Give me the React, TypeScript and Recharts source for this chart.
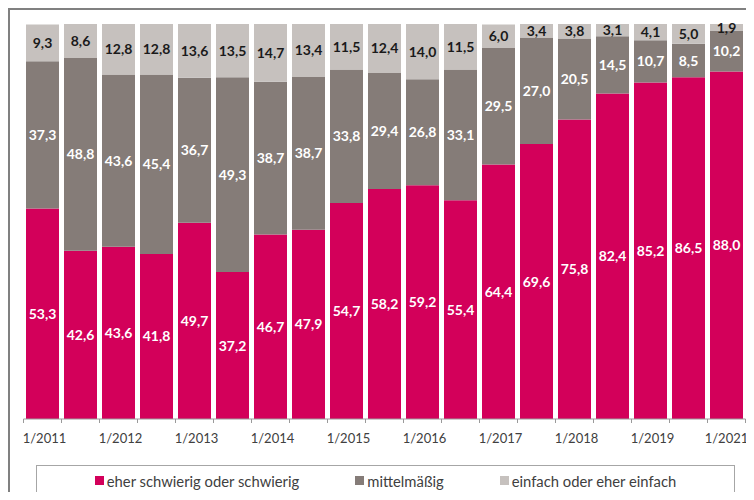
import React from "react";
import { BarChart, Bar, XAxis, YAxis, LabelList, Legend } from "recharts";

const categories = ["1/2011","7/2011","1/2012","7/2012","1/2013","7/2013","1/2014","7/2014","1/2015","7/2015","1/2016","7/2016","1/2017","7/2017","1/2018","7/2018","1/2019","1/2020","1/2021"];
const hard = [53.3, 42.6, 43.6, 41.8, 49.7, 37.2, 46.7, 47.9, 54.7, 58.2, 59.2, 55.4, 64.4, 69.6, 75.8, 82.4, 85.2, 86.5, 88.0];
const mid = [37.3, 48.8, 43.6, 45.4, 36.7, 49.3, 38.7, 38.7, 33.8, 29.4, 26.8, 33.1, 29.5, 27.0, 20.5, 14.5, 10.7, 8.5, 10.2];
const easy = [9.3, 8.6, 12.8, 12.8, 13.6, 13.5, 14.7, 13.4, 11.5, 12.4, 14.0, 11.5, 6.0, 3.4, 3.8, 3.1, 4.1, 5.0, 1.9];
const seriesNames = ["eher schwierig oder schwierig", "mittelmäßig", "einfach oder eher einfach"];
const colors = ["#D3005A", "#857C78", "#C6C1BE"];

const data = categories.map((c, i) => ({ name: c, hard: hard[i], mid: mid[i], easy: easy[i] }));

const fmt = (v: any) => Number(v).toFixed(1).replace(".", ",");

const Tick = (props: any) => {
  const { x, y, payload, index } = props;
  const off = payload && typeof payload.offset === "number" ? payload.offset : 19;
  const last = index === categories.length - 1;
  return (
    <g>
      <line x1={x - off} x2={x - off} y1={y} y2={y + 4} stroke="#9a9a9a" strokeWidth={1} />
      {last && (
        <line x1={x + off} x2={x + off} y1={y} y2={y + 4} stroke="#9a9a9a" strokeWidth={1} />
      )}
      {index % 2 === 0 && (
        <text x={last ? x : x + 2} y={y + 24} textAnchor="middle" fill="#404040" fontSize={13} fontFamily="Lato">
          {payload.value}
        </text>
      )}
    </g>
  );
};

const LegendBox = () => (
  <div
    style={{
      width: 699,
      height: 31,
      boxSizing: "border-box",
      border: "1.5px solid #a6a6a6",
      display: "flex",
      alignItems: "center",
      justifyContent: "center",
      gap: 56,
      fontFamily: "Lato",
      fontSize: 14.8,
      color: "#404040",
    }}
  >
    {seriesNames.map((n, i) => (
      <div key={n} style={{ display: "flex", alignItems: "center" }}>
        <span style={{ display: "inline-block", width: 9, height: 9, background: colors[i], marginRight: 3 }} />
        <span>{n}</span>
      </div>
    ))}
  </div>
);

export default function App() {
  return (
    <div
      style={{
        width: 746,
        height: 484,
        boxSizing: "border-box",
        borderTop: "2px solid #808080",
        borderLeft: "2px solid #808080",
        position: "relative",
      }}
    >
      <style>{`body{overflow:hidden}`}</style>
      <BarChart
        width={744}
        height={490}
        data={data}
        margin={{ top: 14, right: 8.5, left: 13.5, bottom: 51 }}
        barCategoryGap={2.5}
      >
        <XAxis
          dataKey="name"
          interval={0}
          tickLine={false}
          tickSize={0}
          tickMargin={0}
          height={30}
          axisLine={{ stroke: "#9a9a9a" }}
          tick={<Tick />}
        />
        <YAxis hide domain={[0, 100]} allowDataOverflow />
        <Legend
          layout="horizontal"
          verticalAlign="middle"
          align="center"
          content={() => <LegendBox />}
          wrapperStyle={{ position: "absolute", left: 26, top: 455, width: 699, height: 31 }}
        />
        <Bar dataKey="hard" stackId="s" fill={colors[0]} isAnimationActive={false}>
          <LabelList dataKey="hard" position="center" formatter={fmt} fill="#ffffff" fontSize={14} fontWeight={700} fontFamily="Lato" />
        </Bar>
        <Bar dataKey="mid" stackId="s" fill={colors[1]} isAnimationActive={false}>
          <LabelList dataKey="mid" position="center" formatter={fmt} fill="#ffffff" fontSize={14} fontWeight={700} fontFamily="Lato" />
        </Bar>
        <Bar dataKey="easy" stackId="s" fill={colors[2]} isAnimationActive={false}>
          <LabelList dataKey="easy" position="center" formatter={fmt} fill="#1a1a1a" fontSize={14} fontWeight={700} fontFamily="Lato" />
        </Bar>
      </BarChart>
    </div>
  );
}
